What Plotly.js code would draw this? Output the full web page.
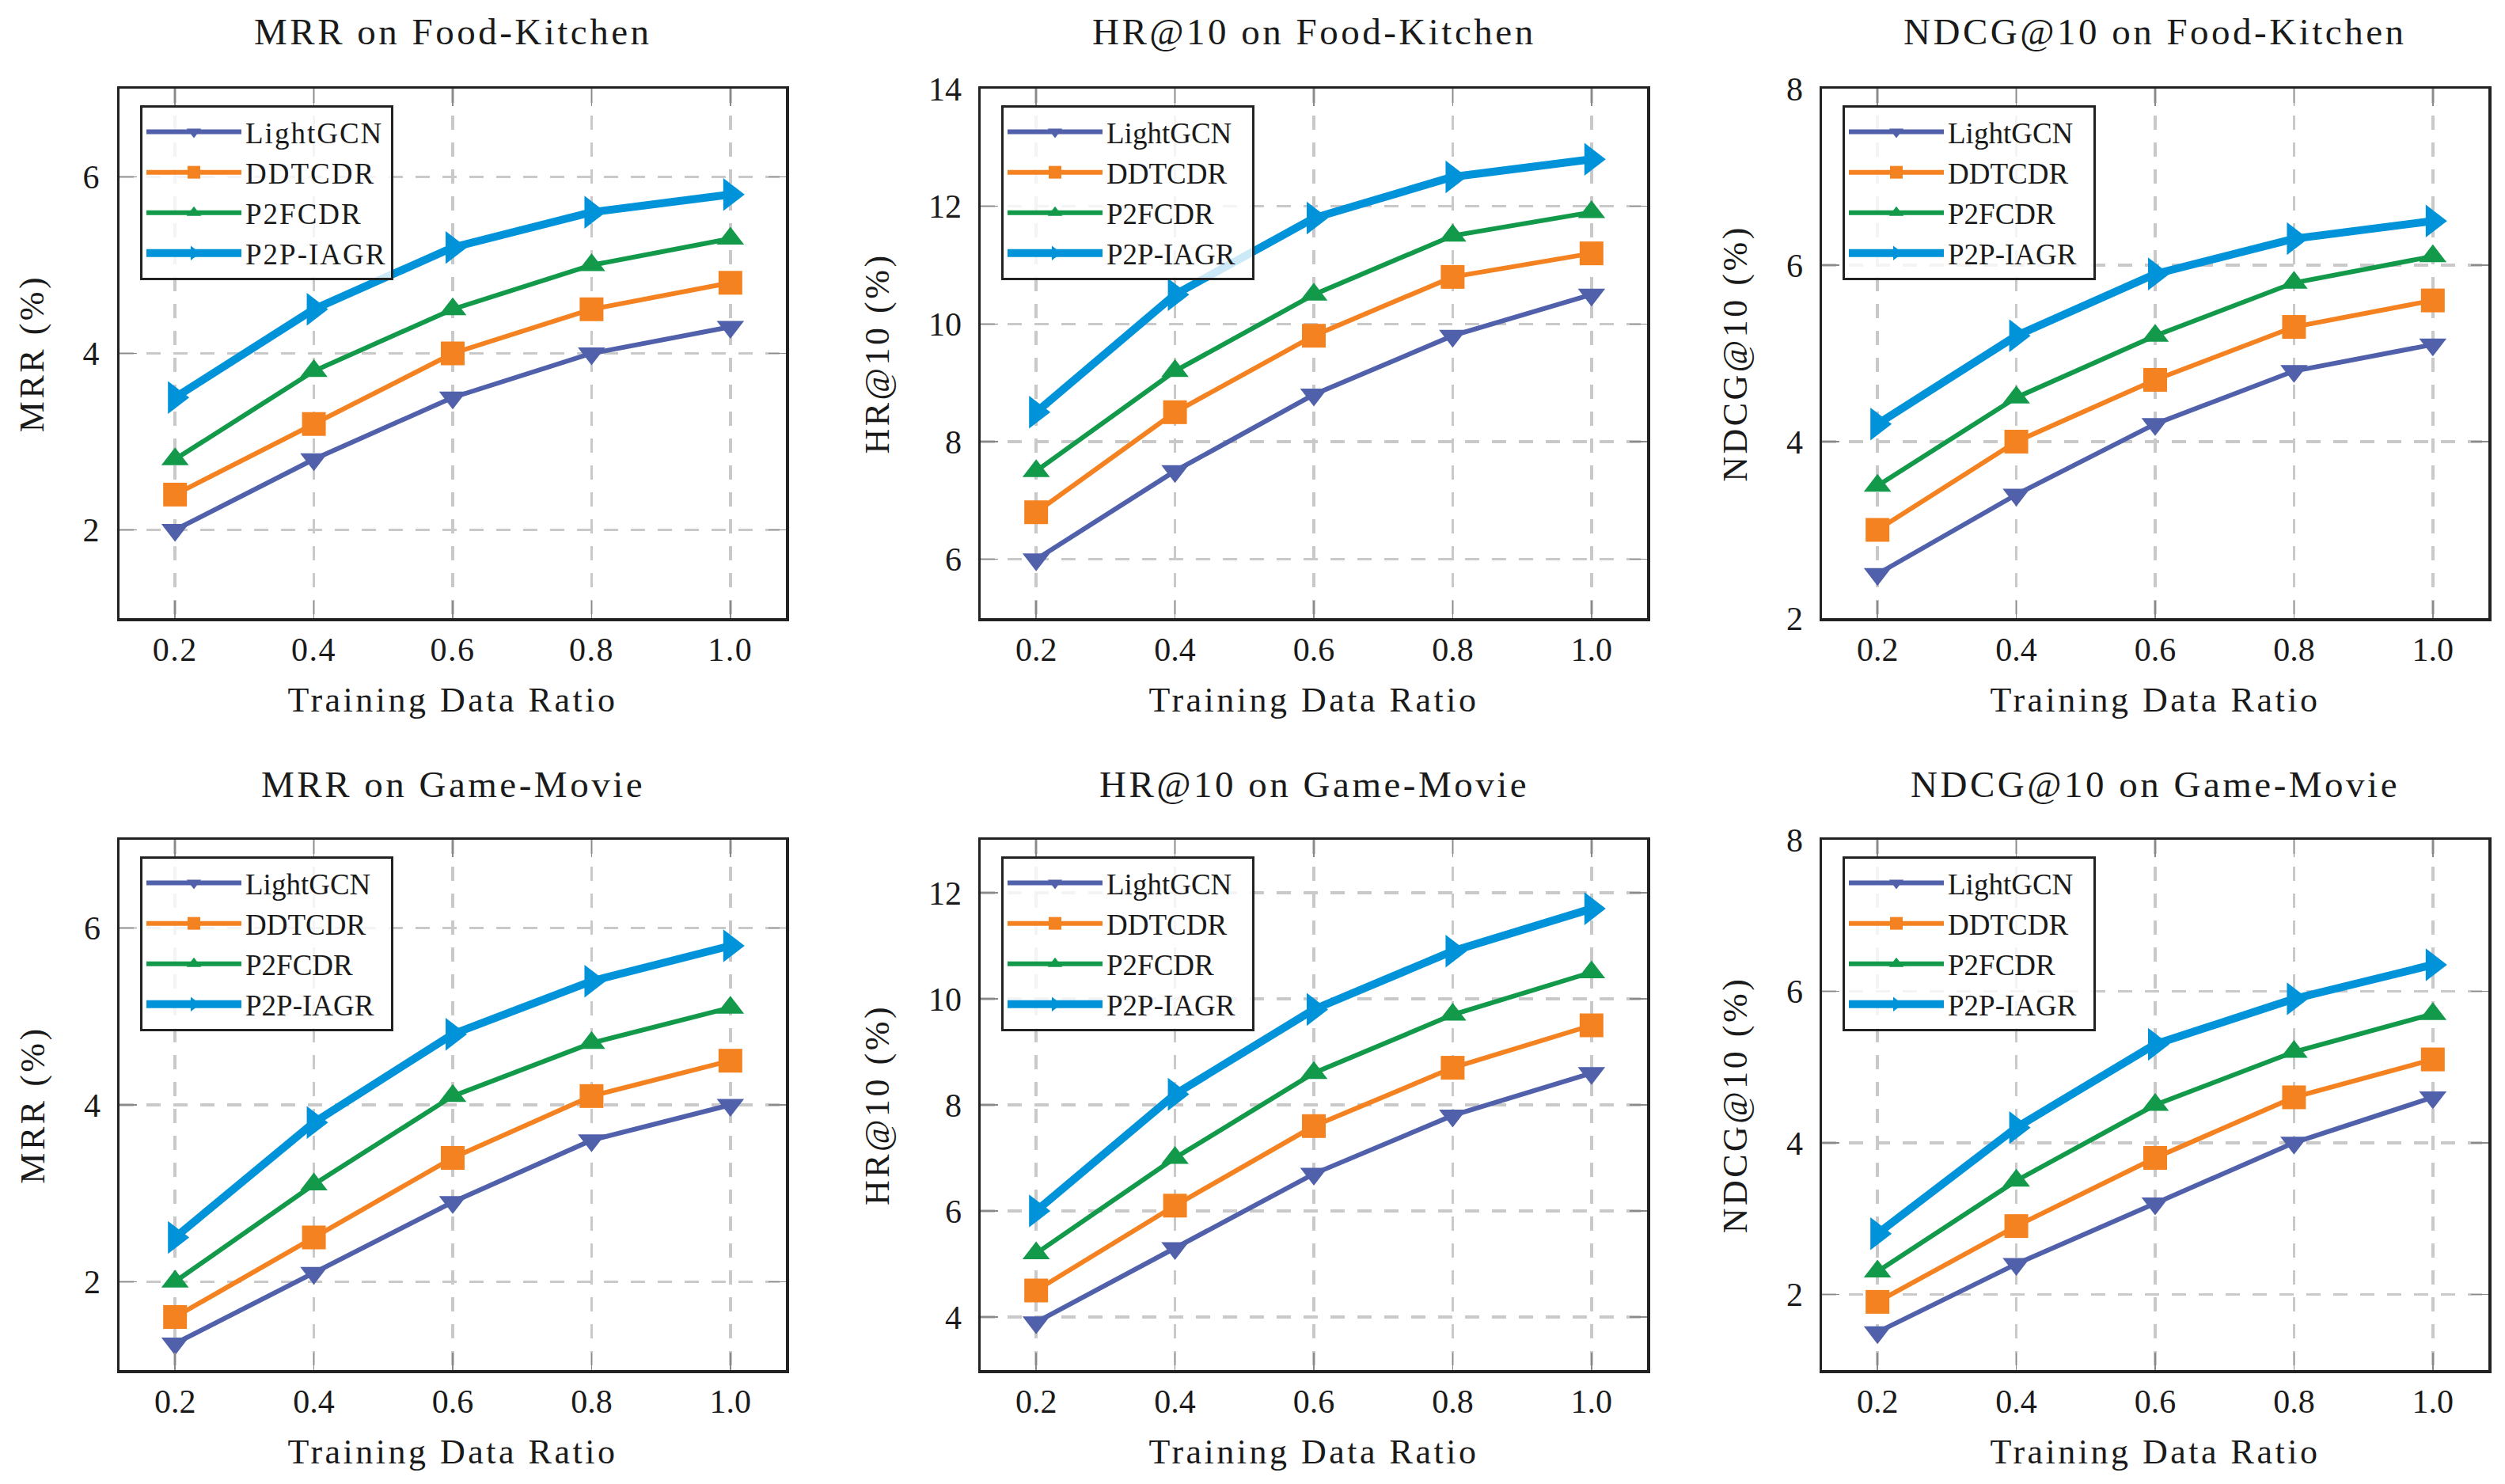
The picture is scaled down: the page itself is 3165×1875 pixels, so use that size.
<!DOCTYPE html>
<html>
<head>
<meta charset="utf-8">
<script src="https://cdn.plot.ly/plotly-3.0.1.min.js"></script>
<style>
  html, body { margin: 0; padding: 0; background: #ffffff; }
  #chart { width: 3165px; height: 1875px; }
  /* Slightly wider tracking to approximate the Computer Modern look */
  text.annotation-text { letter-spacing: 3.5px; }
  text[class^="x"][class$="title"], text[class^="y"][class$="title"] { letter-spacing: 3.5px; }
  g.xtick text, g.ytick text { letter-spacing: 1.5px; }
  text.legendtext { letter-spacing: 2px; }
</style>
</head>
<body>
<div id="chart"></div>
<script>
// Training data ratios shared by every panel
const ratios = [0.2, 0.4, 0.6, 0.8, 1.0];
const ratioLabels = ['0.2', '0.4', '0.6', '0.8', '1.0'];
const methods = ['LightGCN', 'DDTCDR', 'P2FCDR', 'P2P-IAGR'];

// Scores (%) per method, rows in the order of `methods`
const mrrFoodKitchen = [
  [2.0, 2.8, 3.5, 4.0, 4.3],
  [2.4, 3.2, 4.0, 4.5, 4.8],
  [2.8, 3.8, 4.5, 5.0, 5.3],
  [3.5, 4.5, 5.2, 5.6, 5.8]
];
const hrFoodKitchen = [
  [6.0, 7.5, 8.8, 9.8, 10.5],
  [6.8, 8.5, 9.8, 10.8, 11.2],
  [7.5, 9.2, 10.5, 11.5, 11.9],
  [8.5, 10.5, 11.8, 12.5, 12.8]
];
const ndcgFoodKitchen = [
  [2.5, 3.4, 4.2, 4.8, 5.1],
  [3.0, 4.0, 4.7, 5.3, 5.6],
  [3.5, 4.5, 5.2, 5.8, 6.1],
  [4.2, 5.2, 5.9, 6.3, 6.5]
];
const mrrGameMovie = [
  [1.3, 2.1, 2.9, 3.6, 4.0],
  [1.6, 2.5, 3.4, 4.1, 4.5],
  [2.0, 3.1, 4.1, 4.7, 5.1],
  [2.5, 3.8, 4.8, 5.4, 5.8]
];
const hrGameMovie = [
  [3.9, 5.3, 6.7, 7.8, 8.6],
  [4.5, 6.1, 7.6, 8.7, 9.5],
  [5.2, 7.0, 8.6, 9.7, 10.5],
  [6.0, 8.2, 9.8, 10.9, 11.7]
];
const ndcgGameMovie = [
  [1.5, 2.4, 3.2, 4.0, 4.6],
  [1.9, 2.9, 3.8, 4.6, 5.1],
  [2.3, 3.5, 4.5, 5.2, 5.7],
  [2.8, 4.2, 5.3, 5.9, 6.35]
];

// Per-method styling
const colors = ['#5060AA', '#F58220', '#12994A', '#0093DA'];
const symbols = ['triangle-down', 'square', 'triangle-up', 'triangle-right'];
const markerSizes = [30, 30, 30, 36];
const lineWidths = [6, 6, 6, 10];

const panels = [
  { values: mrrFoodKitchen,  title: 'MRR on Food-Kitchen',     yTitle: 'MRR (%)',     yRange: [1, 7],  row: 0, col: 0 },
  { values: hrFoodKitchen,   title: 'HR@10 on Food-Kitchen',   yTitle: 'HR@10 (%)',   yRange: [5, 14], row: 0, col: 1 },
  { values: ndcgFoodKitchen, title: 'NDCG@10 on Food-Kitchen', yTitle: 'NDCG@10 (%)', yRange: [2, 8],  row: 0, col: 2 },
  { values: mrrGameMovie,    title: 'MRR on Game-Movie',       yTitle: 'MRR (%)',     yRange: [1, 7],  row: 1, col: 0 },
  { values: hrGameMovie,     title: 'HR@10 on Game-Movie',     yTitle: 'HR@10 (%)',   yRange: [3, 13], row: 1, col: 1 },
  { values: ndcgGameMovie,   title: 'NDCG@10 on Game-Movie',   yTitle: 'NDCG@10 (%)', yRange: [1, 8],  row: 1, col: 2 }
];

// Page geometry in pixels
const W = 3165, H = 1875;
const colPx = [[151, 993], [1239, 2081], [2302, 3144]];
const rowPx = [[112, 781], [1061, 1731]];
const FONT = "'Liberation Serif', 'Times New Roman', serif";
const INK = '#1a1a1a';

const traces = [];
const layout = {
  width: W, height: H,
  margin: { l: 0, r: 0, t: 0, b: 0 },
  paper_bgcolor: '#ffffff',
  plot_bgcolor: '#ffffff',
  font: { family: FONT, color: INK },
  showlegend: true,
  annotations: []
};

panels.forEach((p, i) => {
  const n = i + 1;
  const suffix = n === 1 ? '' : String(n);
  const xName = 'x' + suffix;
  const yName = 'y' + suffix;
  const legendName = 'legend' + suffix;
  const [x0, x1] = colPx[p.col];
  const [top, bottom] = rowPx[p.row];

  methods.forEach((m, k) => {
    traces.push({
      type: 'scatter',
      mode: 'lines+markers',
      name: m,
      x: ratios,
      y: p.values[k],
      xaxis: xName,
      yaxis: yName,
      legend: legendName,
      line: { color: colors[k], width: lineWidths[k] },
      marker: { symbol: symbols[k], size: markerSizes[k], color: colors[k], line: { width: 0 } },
      cliponaxis: false
    });
  });

  const common = {
    showline: true, linecolor: '#222222', linewidth: 3.5, mirror: 'ticks',
    ticks: 'inside', ticklen: 22, tickwidth: 1.5, tickcolor: '#8a8a8a',
    showgrid: true, gridcolor: '#c9c9c9', gridwidth: 3.5, griddash: '18px,16px',
    zeroline: false,
    tickfont: { family: FONT, size: 42, color: INK }
  };

  layout['xaxis' + suffix] = Object.assign({}, common, {
    domain: [x0 / W, x1 / W],
    anchor: yName,
    range: [0.12, 1.08],
    tickvals: ratios,
    ticktext: ratioLabels,
    ticklabelstandoff: 0,
    title: { text: 'Training Data Ratio', font: { family: FONT, size: 44, color: INK }, standoff: 26 }
  });
  layout['yaxis' + suffix] = Object.assign({}, common, {
    domain: [1 - bottom / H, 1 - top / H],
    anchor: xName,
    range: p.yRange,
    tick0: 0, dtick: 2,
    ticklabelstandoff: 12,
    title: { text: p.yTitle, font: { family: FONT, size: 44, color: INK }, standoff: 36 }
  });

  layout[legendName] = {
    x: (x0 + 26) / W, y: 1 - (top + 21) / H,
    xanchor: 'left', yanchor: 'top',
    bgcolor: 'rgba(255,255,255,0.8)',
    bordercolor: '#222222', borderwidth: 3,
    font: { family: FONT, size: 37, color: INK },
    itemwidth: 120,
    tracegroupgap: 0
  };

  layout.annotations.push({
    text: p.title,
    xref: 'paper', yref: 'paper',
    x: (x0 + x1) / 2 / W,
    y: 1 - (p.row === 0 ? 40 : 991) / H,
    xanchor: 'center', yanchor: 'middle',
    showarrow: false,
    font: { family: FONT, size: 47, color: INK }
  });
});

Plotly.newPlot('chart', traces, layout, { staticPlot: true });
</script>
</body>
</html>
